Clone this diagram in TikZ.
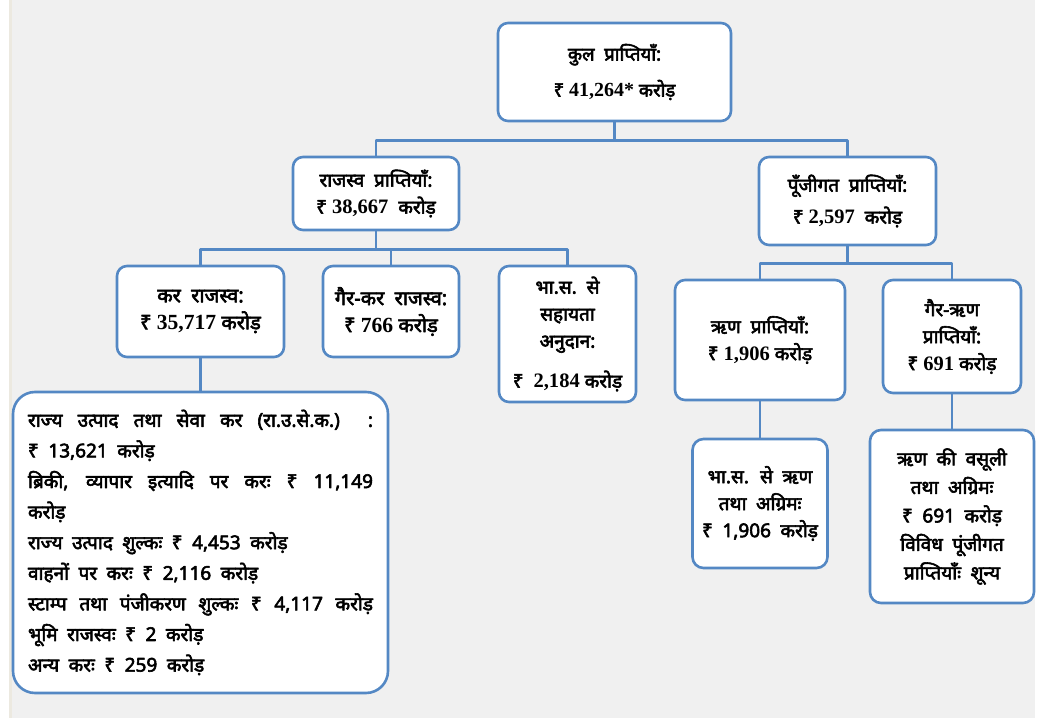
\documentclass[tikz,border=0pt]{standalone}
\usepackage{fontspec}
\setmainfont{Noto Sans}[Script=Devanagari, AutoFakeBold=3]
\newfontfamily\numf[Scale=1.08]{Liberation Serif}
\newcommand{\amt}[1]{{\numf #1}}
\definecolor{boxblue}{RGB}{84,136,196}
\definecolor{bggray}{RGB}{240,240,240}
\definecolor{bgstrip}{RGB}{236,233,224}
\newcommand{\widesp}{\spaceskip=0.5em plus 0.4em minus 0.1em}

\begin{document}
\begin{tikzpicture}[x=1pt, y=1pt, line cap=round, line join=round,
    link/.style={draw=boxblue, line width=2.6pt},
    headbox/.style={draw=boxblue, line width=2.6pt, fill=white, rounded corners=10pt,
      align=center, inner sep=0pt, font=\bfseries\fontsize{19}{27}\selectfont},
    subbox/.style={draw=boxblue, line width=2.6pt, fill=white, rounded corners=11pt,
      align=center, inner sep=0pt, font=\bfseries\fontsize{19}{27}\selectfont\widesp}]

    % canvas
    \useasboundingbox (0,0) rectangle (1052,718);
    \fill[white] (0,0) rectangle (1052,718);
    \fill[bgstrip] (9,0) rectangle (12,718);
    \fill[bggray] (12,0) rectangle (1035,718);

    % total receipts
    \node[headbox, minimum width=233, minimum height=98,
      font=\bfseries\fontsize{18.5}{27}\selectfont] (tot) at (614.5,646)
      {कुल\ \ प्राप्तियाँ:\\[9pt]₹ \amt{41,264*} करोड़};

    % revenue and capital receipts
    \node[headbox, minimum width=166, minimum height=73] (rev) at (376,524.5)
      {राजस्व\ \ प्राप्तियाँ:\\₹ \amt{38,667}\ \ करोड़};
    \node[headbox, minimum width=177, minimum height=88] (cap) at (847.5,517)
      {पूँजीगत\ \ प्राप्तियाँ:\\[5pt]₹ \amt{2,597}\ \ करोड़};

    % heads of revenue receipts
    \node[headbox, minimum width=167, minimum height=91,
      font=\bfseries\fontsize{20}{27}\selectfont] (tax) at (200.5,406.5)
      {कर\ \ राजस्व:\\₹ \amt{35,717} करोड़};
    \node[headbox, minimum width=136, minimum height=91,
      font=\bfseries\fontsize{20}{27}\selectfont] (ntax) at (391,406.5)
      {गैर-कर\ \ राजस्व:\\₹ \amt{766} करोड़};
    \node[headbox, minimum width=137, minimum height=136] (gia) at (567.5,384)
      {भा.स.\ \ से\\सहायता\\अनुदान:\\[13pt]₹\ \ \amt{2,184} करोड़};

    % heads of capital receipts
    \node[headbox, minimum width=170, minimum height=120] (debt) at (760,378)
      {ऋण\ \ प्राप्तियाँ:\\₹ \amt{1,906} करोड़};
    \node[headbox, minimum width=138, minimum height=113] (ndebt) at (952,381.5)
      {गैर-ऋण\\प्राप्तियाँ:\\₹ \amt{691} करोड़};

    % break-up of tax revenue
    \node[draw=boxblue, line width=2.6pt, fill=white, rounded corners=22pt,
      inner sep=0pt, minimum width=375, minimum height=301, text width=345,
      align=justify, font=\bfseries\fontsize{19}{30.6}\selectfont\widesp] (list) at (200.5,175.5)
      {राज्य उत्पाद तथा सेवा कर (रा.उ.से.क.) :\linebreak
       ₹ 13,621 करोड़\par
       ब्रिकी, व्यापार इत्यादि पर करः ₹ 11,149\linebreak
       करोड़\par
       राज्य उत्पाद शुल्कः ₹ 4,453 करोड़\par
       वाहनों पर करः ₹ 2,116 करोड़\par
       {\parfillskip=0pt स्टाम्प तथा पंजीकरण शुल्कः ₹ 4,117 करोड़\par}
       भूमि राजस्वः ₹ 2 करोड़\par
       अन्य करः ₹ 259 करोड़};

    % break-up of capital receipts
    \node[subbox, minimum width=135, minimum height=129] (loan) at (760,214.5)
      {भा.स. से ऋण\\तथा अग्रिमः\\₹ 1,906 करोड़};
    \node[subbox, minimum width=164, minimum height=173,
      font=\bfseries\fontsize{19}{28.5}\selectfont\widesp] (rec) at (952,201.5)
      {ऋण की वसूली\\तथा अग्रिमः\\₹ 691 करोड़\\विविध पूंजीगत\\प्राप्तियाँः शून्य};

    % connectors
    \draw[link] (tot.south) -- ++(0,-18) coordinate (bus1) -| (rev.north);
    \draw[link] (bus1) -| (cap.north);
    \draw[link] (rev.south) -- ++(0,-18) coordinate (bus2) -| (tax.north);
    \draw[link] (bus2) -| (ntax.north);
    \draw[link] (bus2) -| (gia.north);
    \draw[link] (cap.south) -- ++(0,-17) coordinate (bus3) -| (debt.north);
    \draw[link] (bus3) -| (ndebt.north);
    \draw[link] (tax.south) -- (list.north);
    \draw[link] (debt.south) -- (loan.north);
    \draw[link] (ndebt.south) -- (rec.north);
\end{tikzpicture}
\end{document}
